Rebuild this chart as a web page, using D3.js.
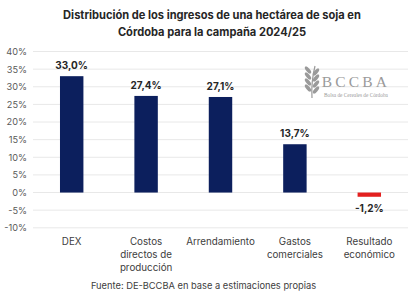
<!doctype html>
<html lang="es">
<head>
<meta charset="utf-8">
<script src="https://d3js.org/d3.v7.min.js"></script>
<title>Soja Córdoba</title>
<style>
  body { margin: 0; background: #fff; }
  svg { display: block; }
</style>
</head>
<body>
<svg id="chart"></svg>
<script>
    // data
    const categories = ["DEX", "Costos directos de producción", "Arrendamiento", "Gastos comerciales", "Resultado económico"];
    const catLines = [["DEX"], ["Costos", "directos de", "producción"], ["Arrendamiento"], ["Gastos", "comerciales"], ["Resultado", "económico"]];
    const values = [33.0, 27.4, 27.1, 13.7, -1.2];
    const yTicks = [40, 35, 30, 25, 20, 15, 10, 5, 0, -5, -10];
    const titleLines = ["Distribución de los ingresos de una hectárea de soja en", "Córdoba para la campaña 2024/25"];
    const source = "Fuente: DE-BCCBA en base a estimaciones propias";

    let width = 420, height = 308;
    let margin = { top: 51.5, left: 34.5, right: 13.5, bottom: 80 };
    const font = "Inter, 'Open Sans', sans-serif";

    const svg = d3.select("#chart").attr("width", width).attr("height", height);

    const xScale = d3.scaleBand().domain(categories)
        .range([margin.left, width - margin.right]).paddingInner(0.685).paddingOuter(0.3425);
    const yScale = d3.scaleLinear().domain([-10, 40]).range([227.8, margin.top]);

    // title
    svg.append("g").selectAll("text")
        .data(titleLines)
        .join("text")
        .attr("x", 212)
        .attr("y", (d, i) => 19 + i * 17)
        .attr("text-anchor", "middle")
        .attr("font-family", font)
        .attr("font-size", 11.1)
        .attr("font-weight", 700)
        .attr("fill", "#262626")
        .text(d => d);

    // grid
    svg.append("g").selectAll("line")
        .data(yTicks)
        .join("line")
        .attr("x1", 33).attr("x2", 408)
        .attr("y1", d => yScale(d)).attr("y2", d => yScale(d))
        .attr("stroke", "#e8e8e8").attr("stroke-width", 1);

    // y axis
    const yAxis = svg.append("g")
        .attr("transform", `translate(27,0)`)
        .call(d3.axisLeft(yScale).tickValues(yTicks).tickSize(0).tickPadding(0).tickFormat(d => d + "%"));
    yAxis.select(".domain").remove();
    yAxis.selectAll("text")
        .attr("font-family", font).attr("font-size", 9.2).attr("fill", "#595959");

    // logo
    const logo = svg.append("g").attr("fill", "#9a9a9a");
    logo.append("text").attr("x", 356).attr("y", 87).attr("text-anchor", "middle")
        .attr("font-family", "'Liberation Serif', serif").attr("font-size", 15.5)
        .attr("letter-spacing", 3.2).text("BCCBA");
    logo.append("text").attr("x", 356).attr("y", 97).attr("text-anchor", "middle")
        .attr("font-family", "'Liberation Serif', serif").attr("font-size", 5.3)
        .text("Bolsa de Cereales de Córdoba");
    const wheat = logo.append("g").attr("transform", "translate(311,82)");
    wheat.append("path").attr("d", "M1,16 Q0,0 4,-16").attr("stroke", "#9a9a9a").attr("fill", "none").attr("stroke-width", 1.2);
    [-12, -6, 0, 6].forEach(dy => {
        wheat.append("ellipse").attr("cx", -3).attr("cy", dy).attr("rx", 1.8).attr("ry", 4.4)
            .attr("transform", `rotate(-40,-3,${dy})`);
        wheat.append("ellipse").attr("cx", 5).attr("cy", dy + 2).attr("rx", 1.8).attr("ry", 4.4)
            .attr("transform", `rotate(40,5,${dy + 2})`);
    });

    // bars
    svg.append("g").selectAll("rect")
        .data(values)
        .join("rect")
        .attr("x", (d, i) => xScale(categories[i]))
        .attr("width", xScale.bandwidth())
        .attr("y", d => yScale(Math.max(0, d)))
        .attr("height", d => Math.abs(yScale(d) - yScale(0)))
        .attr("fill", d => d < 0 ? "#e3201f" : "#0c1f5d");

    // value labels
    svg.append("g").selectAll("text")
        .data(values)
        .join("text")
        .attr("x", (d, i) => xScale(categories[i]) + xScale.bandwidth() / 2)
        .attr("y", d => d < 0 ? yScale(d) + 15 : yScale(d) - 7)
        .attr("text-anchor", "middle")
        .attr("font-family", font).attr("font-size", 10).attr("font-weight", 700)
        .attr("fill", "#262626")
        .text(d => d.toFixed(1).replace(".", ",") + "%");

    // category labels
    const cat = svg.append("g").selectAll("text")
        .data(catLines)
        .join("text")
        .attr("text-anchor", "middle")
        .attr("font-family", font).attr("font-size", 9.8).attr("fill", "#404040")
        .attr("x", (d, i) => xScale(categories[i]) + xScale.bandwidth() / 2);
    cat.selectAll("tspan")
        .data(d => d)
        .join("tspan")
        .attr("x", function () { return d3.select(this.parentNode).attr("x"); })
        .attr("y", (d, i) => 244.5 + i * 13)
        .text(d => d);

    // source
    svg.append("text")
        .attr("x", 203.5).attr("y", 288.5).attr("text-anchor", "middle")
        .attr("font-family", font).attr("font-size", 9.3).attr("fill", "#404040")
        .text(source);
</script>
</body>
</html>
